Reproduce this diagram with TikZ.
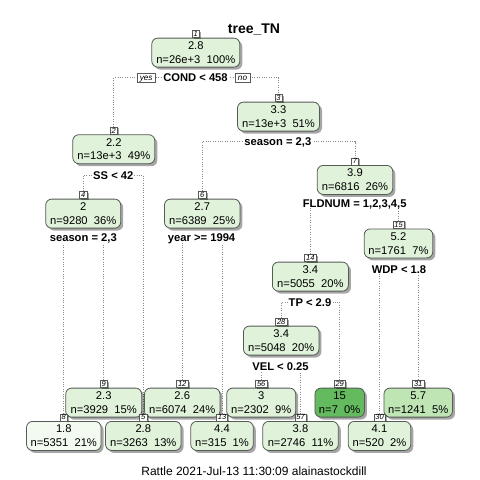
\documentclass[tikz,border=0pt]{standalone}
\usepackage{fontspec}
\setmainfont{Liberation Sans}
\usetikzlibrary{shadows}
\pgfdeclarelayer{bg}
\pgfdeclarelayer{paper}
\pgfsetlayers{paper,bg,main}
\definecolor{gnA}{HTML}{E0F2DA}
\definecolor{gnL}{HTML}{F3FAF0}
\definecolor{gnM}{HTML}{BFE5B5}
\definecolor{gnD}{HTML}{63BA5F}
\definecolor{bordc}{HTML}{555A55}
\definecolor{linec}{HTML}{8A8A8A}
\tikzset{
  treebox/.style={draw=bordc, line width=0.8pt, rounded corners=6pt, fill=#1,
    minimum height=29pt, inner sep=0pt, align=center, anchor=north,
    font=\fontsize{11.2}{13.6}\selectfont,
    drop shadow={shadow xshift=2.5pt, shadow yshift=-2.5pt, opacity=0.35, fill=black}},
  numlab/.style={draw=bordc, fill=white, line width=0.5pt, anchor=south,
    font=\fontsize{7.5}{7.5}\selectfont\itshape, inner xsep=1.5pt, inner ysep=0pt,
    text height=6pt, text depth=1pt,
    drop shadow={shadow xshift=1.8pt, shadow yshift=-1.2pt, opacity=0.35, fill=black}},
  yesno/.style={draw=bordc, fill=white, line width=0.5pt,
    font=\fontsize{8.2}{8.2}\selectfont\itshape, inner xsep=3pt, inner ysep=0pt,
    text height=6.5pt, text depth=2pt},
  splab/.style={fill=white, font=\fontsize{11.2}{11.2}\selectfont\bfseries,
    inner xsep=1pt, inner ysep=0pt, text height=9pt, text depth=1pt},
  conn/.style={linec, line width=0.8pt, dash pattern=on 0.8pt off 1.6pt}
}
\begin{document}
\begin{tikzpicture}[x=1pt,y=-1pt]
\begin{pgfonlayer}{paper}
\fill[white] (0,0) rectangle (480,480);
\end{pgfonlayer}
\useasboundingbox (0,0) rectangle (480,480);
% title and footer
\node[font=\fontsize{14}{14}\selectfont\bfseries] (title) at (254,30) {tree\_TN};
\node[font=\fontsize{12}{12}\selectfont] (foot) at (254,471) {Rattle 2021-Jul-13 11:30:09 alainastockdill};
% boxes
\node[treebox=gnA, minimum width=88pt] (n1) at (195.8,37.7) {2.8\\n=26e+3~~100\%};
\node[treebox=gnA, minimum width=82pt] (n2) at (113.8,134.3) {2.2\\n=13e+3~~49\%};
\node[treebox=gnA, minimum width=82pt] (n3) at (278.5,101.7) {3.3\\n=13e+3~~51\%};
\node[treebox=gnA, minimum width=75pt] (n4) at (83.2,198.7) {2\\n=9280~~36\%};
\node[treebox=gnA, minimum width=75.5pt] (n6) at (202.2,198.7) {2.7\\n=6389~~25\%};
\node[treebox=gnA, minimum width=75.5pt] (n7) at (355,165) {3.9\\n=6816~~26\%};
\node[treebox=gnA, minimum width=68.5pt] (n15) at (398.5,228.5) {5.2\\n=1761~~7\%};
\node[treebox=gnA, minimum width=76pt] (n14) at (310.4,261.7) {3.4\\n=5055~~20\%};
\node[treebox=gnA, minimum width=75.5pt] (n28) at (281.2,325.7) {3.4\\n=5048~~20\%};
\node[treebox=gnA, minimum width=76pt] (n9) at (103.7,387.7) {2.3\\n=3929~~15\%};
\node[treebox=gnA, minimum width=75.5pt] (n12) at (182.2,387.7) {2.6\\n=6074~~24\%};
\node[treebox=gnA, minimum width=69pt] (n56) at (261.2,387.7) {3\\n=2302~~9\%};
\node[treebox=gnD, minimum width=49.5pt] (n29) at (339.7,387.7) {15\\n=7~~0\%};
\node[treebox=gnM, minimum width=68.5pt] (n31) at (418.2,387.7) {5.7\\n=1241~~5\%};
\node[treebox=gnL, minimum width=74.5pt] (n8) at (63.8,421) {1.8\\n=5351~~21\%};
\node[treebox=gnA, minimum width=75.5pt] (n5) at (143.3,421) {2.8\\n=3263~~13\%};
\node[treebox=gnA, minimum width=62.5pt] (n13) at (222,421) {4.4\\n=315~~1\%};
\node[treebox=gnA, minimum width=75.5pt] (n57) at (300.5,421) {3.8\\n=2746~~11\%};
\node[treebox=gnA, minimum width=62.5pt] (n30) at (379.5,421) {4.1\\n=520~~2\%};
% number labels
\foreach \k in {1,2,3,4,5,6,7,8,9,12,13,14,15,28,29,30,31,56,57}{
  \node[numlab] (k\k) at (n\k.north) {\k};
}
% split labels
\node[splab] (s1) at (195.5,77.7) {COND < 458};
\node[yesno] (yes) at (146.2,77.8) {yes};
\node[yesno] (no) at (242.5,77.8) {no};
\node[splab] (s2) at (113.3,175) {SS < 42};
\node[splab] (s3) at (277.8,141.7) {season = 2,3};
\node[splab] (s4) at (83.3,237.5) {season = 2,3};
\node[splab] (s6) at (201.6,237.5) {year >= 1994};
\node[splab] (s7) at (354.7,203.3) {FLDNUM = 1,2,3,4,5};
\node[splab] (s15) at (399,269) {WDP < 1.8};
\node[splab] (s14) at (310,302.3) {TP < 2.9};
\node[splab] (s28) at (280.5,366) {VEL < 0.25};
% connectors
\begin{pgfonlayer}{bg}
\draw[conn] (k2.north) |- (s1.center) -| (k3.north);
\draw[conn] (k4.north) |- (s2.center) -| (k5.north);
\draw[conn] (k6.north) |- (s3.center) -| (k7.north);
\draw[conn] (k8.north) |- (s4.center) -| (k9.north);
\draw[conn] (k12.north) |- (s6.center) -| (k13.north);
\draw[conn] (k14.north) |- (s7.center) -| (k15.north);
\draw[conn] (k28.north) |- (s14.center) -| (k29.north);
\draw[conn] (k30.north) |- (s15.center) -| (k31.north);
\draw[conn] (k56.north) |- (s28.center) -| (k57.north);
\end{pgfonlayer}
\end{tikzpicture}
\end{document}
